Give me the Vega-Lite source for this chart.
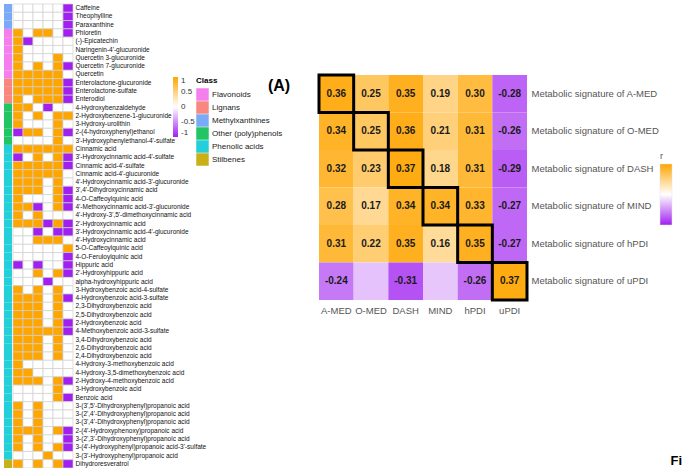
{
  "$schema": "https://vega.github.io/schema/vega-lite/v6.json",
  "padding": {"left": 4, "top": 3, "right": 0, "bottom": 0},
  "config": {"font": "Liberation Sans", "view": {"stroke": null}},
  "datasets": {
    "met": [
      {"m": "Caffeine", "cls": "Methylxanthines", "A-MED": 0, "O-MED": 0, "DASH": 0, "MIND": 0, "hPDI": 0, "uPDI": -1},
      {"m": "Theophylline", "cls": "Methylxanthines", "A-MED": 0, "O-MED": 0, "DASH": 0, "MIND": 0, "hPDI": 0, "uPDI": -1},
      {"m": "Paraxanthine", "cls": "Methylxanthines", "A-MED": 0, "O-MED": 0, "DASH": 0, "MIND": 0, "hPDI": 0, "uPDI": -1},
      {"m": "Phloretin", "cls": "Flavonoids", "A-MED": 1, "O-MED": 0, "DASH": 1, "MIND": 1, "hPDI": 0, "uPDI": -1},
      {"m": "(-)-Epicatechin", "cls": "Flavonoids", "A-MED": 1, "O-MED": -1, "DASH": 0, "MIND": 0, "hPDI": 0, "uPDI": 0},
      {"m": "Naringenin-4'-glucuronide", "cls": "Flavonoids", "A-MED": 1, "O-MED": 0, "DASH": 0, "MIND": 0, "hPDI": 0, "uPDI": 0},
      {"m": "Quercetin 3-glucuronide", "cls": "Flavonoids", "A-MED": 1, "O-MED": 0, "DASH": 0, "MIND": 0, "hPDI": 1, "uPDI": 0},
      {"m": "Quercetin 7-glucuronide", "cls": "Flavonoids", "A-MED": 1, "O-MED": 0, "DASH": 1, "MIND": 0, "hPDI": 1, "uPDI": -1},
      {"m": "Quercetin", "cls": "Flavonoids", "A-MED": 1, "O-MED": 1, "DASH": 1, "MIND": 1, "hPDI": 1, "uPDI": 0},
      {"m": "Enterolactone-glucuronide", "cls": "Lignans", "A-MED": 1, "O-MED": 1, "DASH": 1, "MIND": 1, "hPDI": 1, "uPDI": -1},
      {"m": "Enterolactone-sulfate", "cls": "Lignans", "A-MED": 1, "O-MED": 1, "DASH": 1, "MIND": 1, "hPDI": 1, "uPDI": -1},
      {"m": "Enterodiol", "cls": "Lignans", "A-MED": 1, "O-MED": 0, "DASH": 1, "MIND": 1, "hPDI": 1, "uPDI": -1},
      {"m": "4-Hydroxybenzaldehyde", "cls": "Other (poly)phenols", "A-MED": 1, "O-MED": 1, "DASH": 0, "MIND": -1, "hPDI": 0, "uPDI": 0},
      {"m": "2-Hydroxybenzene-1-glucuronide", "cls": "Other (poly)phenols", "A-MED": 1, "O-MED": 0, "DASH": 1, "MIND": 0, "hPDI": 1, "uPDI": 1},
      {"m": "3-Hydroxy-urolithin", "cls": "Other (poly)phenols", "A-MED": 1, "O-MED": 0, "DASH": 0, "MIND": 0, "hPDI": 1, "uPDI": 0},
      {"m": "2-(4-hydroxyphenyl)ethanol", "cls": "Other (poly)phenols", "A-MED": -1, "O-MED": 1, "DASH": 1, "MIND": 0, "hPDI": 1, "uPDI": -1},
      {"m": "3'-Hydroxyphenylethanol-4'-sulfate", "cls": "Other (poly)phenols", "A-MED": 0, "O-MED": 0, "DASH": 0, "MIND": 0, "hPDI": 1, "uPDI": 0},
      {"m": "Cinnamic acid", "cls": "Phenolic acids", "A-MED": 1, "O-MED": 1, "DASH": 1, "MIND": 1, "hPDI": 1, "uPDI": 1},
      {"m": "3'-Hydroxycinnamic acid-4'-sulfate", "cls": "Phenolic acids", "A-MED": -1, "O-MED": 0, "DASH": 1, "MIND": 0, "hPDI": 1, "uPDI": -1},
      {"m": "Cinnamic acid-4'-sulfate", "cls": "Phenolic acids", "A-MED": 1, "O-MED": 1, "DASH": 1, "MIND": 1, "hPDI": 1, "uPDI": -1},
      {"m": "Cinnamic acid-4'-glucuronide", "cls": "Phenolic acids", "A-MED": 1, "O-MED": 1, "DASH": 1, "MIND": 1, "hPDI": 1, "uPDI": 0},
      {"m": "4'-Hydroxycinnamic acid-3'-glucuronide", "cls": "Phenolic acids", "A-MED": 1, "O-MED": 1, "DASH": 1, "MIND": 0, "hPDI": 1, "uPDI": 0},
      {"m": "3',4'-Dihydroxycinnamic acid", "cls": "Phenolic acids", "A-MED": 1, "O-MED": 1, "DASH": 1, "MIND": 0, "hPDI": 1, "uPDI": -1},
      {"m": "4-O-Caffeoylquinic acid", "cls": "Phenolic acids", "A-MED": 1, "O-MED": 0, "DASH": 0, "MIND": 0, "hPDI": 1, "uPDI": -1},
      {"m": "4'-Methoxycinnamic acid-3'-glucuronide", "cls": "Phenolic acids", "A-MED": 1, "O-MED": 1, "DASH": -1, "MIND": 0, "hPDI": 1, "uPDI": -1},
      {"m": "4'-Hydroxy-3',5'-dimethoxycinnamic acid", "cls": "Phenolic acids", "A-MED": 1, "O-MED": 0, "DASH": 1, "MIND": 0, "hPDI": 0, "uPDI": 0},
      {"m": "2'-Hydroxycinnamic acid", "cls": "Phenolic acids", "A-MED": 1, "O-MED": 1, "DASH": 1, "MIND": -1, "hPDI": 1, "uPDI": -1},
      {"m": "3'-Hydroxycinnamic acid-4'-glucuronide", "cls": "Phenolic acids", "A-MED": 0, "O-MED": 0, "DASH": -1, "MIND": 0, "hPDI": -1, "uPDI": -1},
      {"m": "4'-Hydroxycinnamic acid", "cls": "Phenolic acids", "A-MED": 0, "O-MED": 0, "DASH": 1, "MIND": 1, "hPDI": 1, "uPDI": 0},
      {"m": "5-O-Caffeoylquinic acid", "cls": "Phenolic acids", "A-MED": 0, "O-MED": 0, "DASH": 0, "MIND": 0, "hPDI": 0, "uPDI": 1},
      {"m": "4-O-Feruloylquinic acid", "cls": "Phenolic acids", "A-MED": 0, "O-MED": 0, "DASH": 0, "MIND": 0, "hPDI": 0, "uPDI": -1},
      {"m": "Hippuric acid", "cls": "Phenolic acids", "A-MED": -1, "O-MED": 0, "DASH": -1, "MIND": 0, "hPDI": 0, "uPDI": -1},
      {"m": "2'-Hydroxyhippuric acid", "cls": "Phenolic acids", "A-MED": 0, "O-MED": 0, "DASH": 1, "MIND": 0, "hPDI": 1, "uPDI": -1},
      {"m": "alpha-hydroxyhippuric acid", "cls": "Phenolic acids", "A-MED": 0, "O-MED": 0, "DASH": 0, "MIND": -1, "hPDI": 0, "uPDI": 0},
      {"m": "3-Hydroxybenzoic acid-4-sulfate", "cls": "Phenolic acids", "A-MED": 1, "O-MED": 0, "DASH": 1, "MIND": 0, "hPDI": 1, "uPDI": 0},
      {"m": "4-Hydroxybenzoic acid-3-sulfate", "cls": "Phenolic acids", "A-MED": 1, "O-MED": 1, "DASH": 1, "MIND": 0, "hPDI": 1, "uPDI": -1},
      {"m": "2,3-Dihydroxybenzoic acid", "cls": "Phenolic acids", "A-MED": 1, "O-MED": 1, "DASH": 1, "MIND": 0, "hPDI": 1, "uPDI": 0},
      {"m": "2,5-Dihydroxybenzoic acid", "cls": "Phenolic acids", "A-MED": 1, "O-MED": 1, "DASH": 1, "MIND": 0, "hPDI": 1, "uPDI": 0},
      {"m": "2-Hydroxybenzoic acid", "cls": "Phenolic acids", "A-MED": 1, "O-MED": 1, "DASH": 1, "MIND": 0, "hPDI": 1, "uPDI": -1},
      {"m": "4-Methoxybenzoic acid-3-sulfate", "cls": "Phenolic acids", "A-MED": 1, "O-MED": 1, "DASH": 1, "MIND": 1, "hPDI": 1, "uPDI": -1},
      {"m": "3,4-Dihydroxybenzoic acid", "cls": "Phenolic acids", "A-MED": 1, "O-MED": 1, "DASH": 1, "MIND": 0, "hPDI": 1, "uPDI": 0},
      {"m": "2,6-Dihydroxybenzoic acid", "cls": "Phenolic acids", "A-MED": 1, "O-MED": 1, "DASH": 1, "MIND": 0, "hPDI": 1, "uPDI": 0},
      {"m": "2,4-Dihydroxybenzoic acid", "cls": "Phenolic acids", "A-MED": 1, "O-MED": 1, "DASH": 1, "MIND": 0, "hPDI": 1, "uPDI": 0},
      {"m": "4-Hydroxy-3-methoxybenzoic acid", "cls": "Phenolic acids", "A-MED": 1, "O-MED": 0, "DASH": 0, "MIND": 0, "hPDI": 0, "uPDI": 0},
      {"m": "4-Hydroxy-3,5-dimethoxybenzoic acid", "cls": "Phenolic acids", "A-MED": 1, "O-MED": 1, "DASH": 0, "MIND": 0, "hPDI": 0, "uPDI": 0},
      {"m": "2-Hydroxy-4-methoxybenzoic acid", "cls": "Phenolic acids", "A-MED": 1, "O-MED": 1, "DASH": 1, "MIND": 0, "hPDI": 1, "uPDI": -1},
      {"m": "3-Hydroxybenzoic acid", "cls": "Phenolic acids", "A-MED": 0, "O-MED": 0, "DASH": 0, "MIND": 0, "hPDI": 1, "uPDI": 0},
      {"m": "Benzoic acid", "cls": "Phenolic acids", "A-MED": 0, "O-MED": 0, "DASH": 0, "MIND": 0, "hPDI": 1, "uPDI": -1},
      {"m": "3-(3',5'-Dihydroxyphenyl)propanoic acid", "cls": "Phenolic acids", "A-MED": 1, "O-MED": 0, "DASH": 1, "MIND": 0, "hPDI": 0, "uPDI": 0},
      {"m": "3-(2',4'-Dihydroxyphenyl)propanoic acid", "cls": "Phenolic acids", "A-MED": 1, "O-MED": 0, "DASH": 1, "MIND": 0, "hPDI": 0, "uPDI": 0},
      {"m": "3-(3',4'-Dihydroxyphenyl)propanoic acid", "cls": "Phenolic acids", "A-MED": 1, "O-MED": 0, "DASH": 1, "MIND": 0, "hPDI": 0, "uPDI": 0},
      {"m": "2-(4'-Hydroxyphenoxy)propanoic acid", "cls": "Phenolic acids", "A-MED": 1, "O-MED": 1, "DASH": 1, "MIND": 0, "hPDI": 1, "uPDI": -1},
      {"m": "3-(2',3'-Dihydroxyphenyl)propanoic acid", "cls": "Phenolic acids", "A-MED": 1, "O-MED": 0, "DASH": 1, "MIND": 0, "hPDI": 0, "uPDI": -1},
      {"m": "3-(4'-Hydroxyphenyl)propanoic acid-3'-sulfate", "cls": "Phenolic acids", "A-MED": 1, "O-MED": 0, "DASH": 1, "MIND": 0, "hPDI": 1, "uPDI": -1},
      {"m": "3-(3'-Hydroxyphenyl)propanoic acid", "cls": "Phenolic acids", "A-MED": 0, "O-MED": 0, "DASH": 0, "MIND": 1, "hPDI": 0, "uPDI": 0},
      {"m": "Dihydroresveratrol", "cls": "Stilbenes", "A-MED": 1, "O-MED": 0, "DASH": 1, "MIND": 0, "hPDI": 1, "uPDI": -1}
    ],
    "corr": [
      {"sig": "A-MED", "diet": "A-MED", "r": 0.36, "label": "0.36"},
      {"sig": "A-MED", "diet": "O-MED", "r": 0.25, "label": "0.25"},
      {"sig": "A-MED", "diet": "DASH", "r": 0.35, "label": "0.35"},
      {"sig": "A-MED", "diet": "MIND", "r": 0.19, "label": "0.19"},
      {"sig": "A-MED", "diet": "hPDI", "r": 0.30, "label": "0.30"},
      {"sig": "A-MED", "diet": "uPDI", "r": -0.28, "label": "-0.28"},
      {"sig": "O-MED", "diet": "A-MED", "r": 0.34, "label": "0.34"},
      {"sig": "O-MED", "diet": "O-MED", "r": 0.25, "label": "0.25"},
      {"sig": "O-MED", "diet": "DASH", "r": 0.36, "label": "0.36"},
      {"sig": "O-MED", "diet": "MIND", "r": 0.21, "label": "0.21"},
      {"sig": "O-MED", "diet": "hPDI", "r": 0.31, "label": "0.31"},
      {"sig": "O-MED", "diet": "uPDI", "r": -0.26, "label": "-0.26"},
      {"sig": "DASH", "diet": "A-MED", "r": 0.32, "label": "0.32"},
      {"sig": "DASH", "diet": "O-MED", "r": 0.23, "label": "0.23"},
      {"sig": "DASH", "diet": "DASH", "r": 0.37, "label": "0.37"},
      {"sig": "DASH", "diet": "MIND", "r": 0.18, "label": "0.18"},
      {"sig": "DASH", "diet": "hPDI", "r": 0.31, "label": "0.31"},
      {"sig": "DASH", "diet": "uPDI", "r": -0.29, "label": "-0.29"},
      {"sig": "MIND", "diet": "A-MED", "r": 0.28, "label": "0.28"},
      {"sig": "MIND", "diet": "O-MED", "r": 0.17, "label": "0.17"},
      {"sig": "MIND", "diet": "DASH", "r": 0.34, "label": "0.34"},
      {"sig": "MIND", "diet": "MIND", "r": 0.34, "label": "0.34"},
      {"sig": "MIND", "diet": "hPDI", "r": 0.33, "label": "0.33"},
      {"sig": "MIND", "diet": "uPDI", "r": -0.27, "label": "-0.27"},
      {"sig": "hPDI", "diet": "A-MED", "r": 0.31, "label": "0.31"},
      {"sig": "hPDI", "diet": "O-MED", "r": 0.22, "label": "0.22"},
      {"sig": "hPDI", "diet": "DASH", "r": 0.35, "label": "0.35"},
      {"sig": "hPDI", "diet": "MIND", "r": 0.16, "label": "0.16"},
      {"sig": "hPDI", "diet": "hPDI", "r": 0.35, "label": "0.35"},
      {"sig": "hPDI", "diet": "uPDI", "r": -0.27, "label": "-0.27"},
      {"sig": "uPDI", "diet": "A-MED", "r": -0.24, "label": "-0.24"},
      {"sig": "uPDI", "diet": "O-MED", "r": -0.11, "label": ""},
      {"sig": "uPDI", "diet": "DASH", "r": -0.31, "label": "-0.31"},
      {"sig": "uPDI", "diet": "MIND", "r": -0.10, "label": ""},
      {"sig": "uPDI", "diet": "hPDI", "r": -0.26, "label": "-0.26"},
      {"sig": "uPDI", "diet": "uPDI", "r": 0.37, "label": "0.37"}
    ],
    "tag": [{"t": "(A)"}]
  },
  "bounds": "flush",
  "spacing": 265,
  "resolve": {"scale": {"color": "independent"}, "legend": {"color": "independent"}},
  "hconcat": [
    {
      "bounds": "flush",
      "spacing": 1,
      "resolve": {"scale": {"color": "independent"}, "legend": {"color": "independent"}},
      "hconcat": [
        {
          "width": 8,
          "height": 464,
          "data": {"name": "met"},
          "mark": {"type": "rect"},
          "encoding": {
            "y": {"field": "m", "type": "nominal", "sort": null, "axis": null, "scale": {"paddingInner": 0, "paddingOuter": 0}},
            "color": {
              "field": "cls", "type": "nominal",
              "scale": {
                "domain": ["Flavonoids", "Lignans", "Methylxanthines", "Other (poly)phenols", "Phenolic acids", "Stilbenes"],
                "range": ["#F47EEE", "#F7877F", "#7AAAF5", "#22C463", "#23D0DA", "#C9B017"]
              },
              "legend": {
                "title": "Class", "orient": "none", "legendX": 192, "legendY": 73, "direction": "vertical",
                "titleFontSize": 8, "titleFontWeight": "bold", "titleColor": "#000", "titlePadding": 3,
                "labelFontSize": 8, "labelColor": "#222", "labelOffset": 3,
                "symbolType": "square", "symbolSize": 156, "symbolStrokeWidth": 0, "symbolOpacity": 1, "rowPadding": 0
              }
            }
          }
        },
        {
          "width": 60,
          "height": 464,
          "data": {"name": "met"},
          "transform": [{"fold": ["A-MED", "O-MED", "DASH", "MIND", "hPDI", "uPDI"], "as": ["diet", "v"]}],
          "mark": {"type": "rect", "stroke": "#d0d0d0", "strokeWidth": 0.7},
          "encoding": {
            "x": {"field": "diet", "type": "nominal", "sort": ["A-MED", "O-MED", "DASH", "MIND", "hPDI", "uPDI"], "axis": null, "scale": {"paddingInner": 0, "paddingOuter": 0}},
            "y": {
              "field": "m", "type": "nominal", "sort": null, "scale": {"paddingInner": 0, "paddingOuter": 0},
              "axis": {"orient": "right", "title": null, "ticks": false, "domain": false, "labelPadding": 2, "labelFontSize": 6.5, "labelColor": "#111", "labelOverlap": false, "labelLimit": 300}
            },
            "color": {
              "field": "v", "type": "quantitative",
              "scale": {"domain": [-1, 0, 1], "range": ["#A020F0", "#FFFFFF", "#FFA500"], "interpolate": "rgb"},
              "legend": {
                "title": null, "orient": "none", "legendX": 160, "legendY": 73, "direction": "vertical",
                "gradientLength": 60, "gradientThickness": 5, "gradientStrokeWidth": 0,
                "values": [-1, -0.5, 0, 0.5, 1], "labelFontSize": 8, "labelColor": "#333", "labelOffset": 3, "labelOverlap": false,
                "labelExpr": "(datum.value < 0 ? '-' : '') + abs(datum.value)"
              }
            }
          }
        }
      ]
    },
    {
      "bounds": "flush",
      "spacing": 30,
      "resolve": {"scale": {"color": "independent"}, "legend": {"color": "independent"}},
      "hconcat": [
        {
          "width": 20,
          "height": 164,
          "data": {"name": "tag"},
          "mark": {"type": "text", "fontSize": 16, "fontWeight": "bold", "color": "#000", "align": "center", "baseline": "middle"},
          "encoding": {"text": {"field": "t"}}
        },
        {
          "width": 208,
          "height": 296,
          "data": {"name": "corr"},
          "encoding": {
            "x": {
              "field": "diet", "type": "nominal", "sort": ["A-MED", "O-MED", "DASH", "MIND", "hPDI", "uPDI"],
              "scale": {"paddingInner": 0, "paddingOuter": 0},
              "axis": {"orient": "bottom", "labelAngle": 0, "ticks": false, "domain": false, "labelPadding": 5, "labelFontSize": 9.5, "labelColor": "#555",
                "title": "Fi", "titleX": 351, "titleY": 160, "titleAlign": "left", "titleBaseline": "middle", "titleFontSize": 13, "titleFontWeight": "bold", "titleColor": "#000", "titleAngle": 0}
            },
            "y": {
              "field": "sig", "type": "nominal", "sort": ["A-MED", "O-MED", "DASH", "MIND", "hPDI", "uPDI"],
              "scale": {"range": [71, 296], "paddingInner": 0, "paddingOuter": 0},
              "axis": {"orient": "right", "title": null, "ticks": false, "domain": false, "labelPadding": 4, "labelFontSize": 9.5, "labelColor": "#555",
                "labelExpr": "'Metabolic signature of ' + datum.value", "labelLimit": 300}
            }
          },
          "layer": [
            {
              "mark": {"type": "rect"},
              "encoding": {
                "color": {
                  "field": "r", "type": "quantitative",
                  "scale": {"domain": [-0.4, 0, 0.4], "range": ["#A020F0", "#FFFFFF", "#FFA500"], "interpolate": "rgb"},
                  "legend": {
                    "title": "r", "orient": "none", "legendX": 341, "legendY": 148, "direction": "vertical",
                    "gradientLength": 61, "gradientThickness": 12, "gradientStrokeColor": "#e0e0e0", "gradientStrokeWidth": 0.5,
                    "titleFontSize": 9, "titleFontWeight": "normal", "titleColor": "#555", "titlePadding": 3,
                    "labelExpr": "''"
                  }
                }
              }
            },
            {
              "transform": [{"filter": "datum.diet === datum.sig"}],
              "mark": {"type": "rect", "filled": false, "stroke": "#000", "strokeWidth": 3}
            },
            {
              "mark": {"type": "text", "fontSize": 10, "fontWeight": "bold", "color": "#1a1a1a"},
              "encoding": {"text": {"field": "label"}}
            }
          ]
        }
      ]
    }
  ]
}
